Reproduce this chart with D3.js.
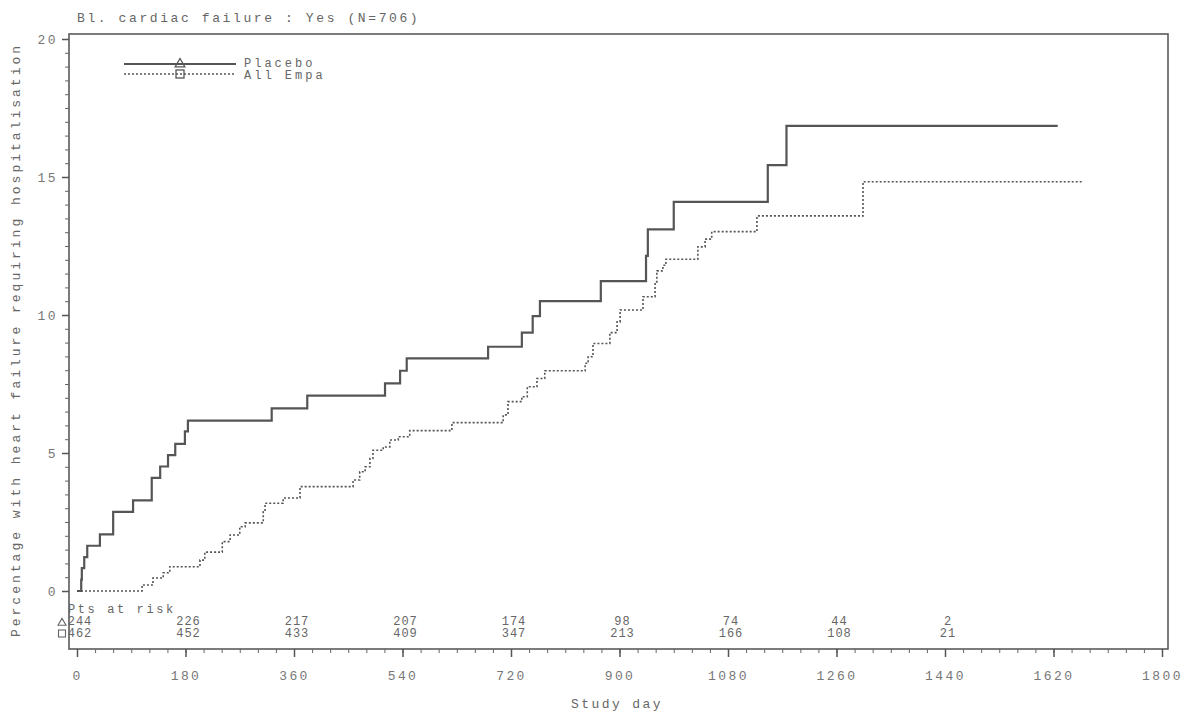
<!DOCTYPE html>
<html>
<head>
<meta charset="utf-8">
<script src="https://cdn.jsdelivr.net/npm/d3@7"></script>
<style>
  body { margin: 0; background: #fff; }
  text { font-family: "Liberation Mono", "DejaVu Sans Mono", monospace; fill: #666; }
</style>
</head>
<body>
<div id="chart"></div>
<script>
// Kaplan-Meier style step data (day, cumulative %)
const placeboDays = [0, 7, 8, 12, 17, 38, 60, 93, 124, 138, 151, 163, 179, 184, 323, 382, 511, 536, 547, 682, 738, 756, 768, 869, 944, 947, 990, 1146, 1177, 1627];
const placeboPct  = [0, 0.41, 0.83, 1.23, 1.64, 2.05, 2.87, 3.28, 4.1, 4.51, 4.92, 5.33, 5.78, 6.17, 6.62, 7.08, 7.52, 7.98, 8.43, 8.85, 9.36, 9.96, 10.5, 11.23, 12.14, 13.1, 14.1, 15.43, 16.85, 16.85];

const empaDays = [0, 108, 126, 143, 154, 204, 212, 241, 254, 270, 279, 309, 312, 342, 370, 458, 469, 478, 486, 491, 508, 519, 533, 552, 622, 707, 715, 738, 747, 763, 776, 843, 848, 856, 884, 896, 901, 939, 959, 962, 972, 977, 1030, 1042, 1053, 1128, 1304, 1669];
const empaPct  = [0, 0.22, 0.47, 0.66, 0.88, 1.12, 1.41, 1.79, 2.03, 2.33, 2.47, 2.87, 3.18, 3.37, 3.78, 4.02, 4.32, 4.5, 4.8, 5.1, 5.22, 5.47, 5.59, 5.81, 6.1, 6.38, 6.86, 7.04, 7.4, 7.7, 7.98, 8.25, 8.49, 8.97, 9.36, 9.75, 10.18, 10.66, 11.2, 11.6, 11.8, 12.02, 12.47, 12.75, 13.02, 13.59, 14.83, 14.83];

const riskDays    = [0, 180, 360, 540, 720, 900, 1080, 1260, 1440];
const riskPlacebo = [244, 226, 217, 207, 174, 98, 74, 44, 2];
const riskEmpa    = [462, 452, 433, 409, 347, 213, 166, 108, 21];

const xTicks = [0, 180, 360, 540, 720, 900, 1080, 1260, 1440, 1620, 1800];
const yTicks = [0, 5, 10, 15, 20];

const W = 1189, H = 715;
const frame = { left: 69, top: 34, right: 1168, bottom: 649 };

const svg = d3.select('#chart').append('svg')
    .attr('width', W)
    .attr('height', H);

const xScale = d3.scaleLinear().domain([0, 1800]).range([77, 1162]);
const yScale = d3.scaleLinear().domain([0, 20]).range([591, 39]);

const ls = '2.4px';

// frame
svg.append('rect')
    .attr('x', frame.left).attr('y', frame.top)
    .attr('width', frame.right - frame.left)
    .attr('height', frame.bottom - frame.top)
    .style('fill', 'none').style('stroke', '#5a5a5a').style('stroke-width', 1.6);

// y axis
const yAxis = svg.append('g')
    .attr('transform', `translate(${frame.left},0)`)
    .call(d3.axisLeft(yScale).tickValues(d3.range(0, 20.01, 0.5)).tickSize(4).tickFormat(''));
yAxis.select('.domain').remove();
yAxis.selectAll('line').style('stroke', '#666');

const yMajor = svg.append('g')
    .attr('transform', `translate(${frame.left},0)`)
    .call(d3.axisLeft(yScale).tickValues(yTicks).tickSize(7).tickPadding(4));
yMajor.select('.domain').remove();
yMajor.selectAll('line').style('stroke', '#555').style('stroke-width', 1.5);
yMajor.selectAll('text').style('font-size', '13px').style('letter-spacing', ls)
    .style('fill', '#777').style('font-family', '"Liberation Mono", monospace');

// x axis
const xAxis = svg.append('g')
    .attr('transform', `translate(0,${frame.bottom})`)
    .call(d3.axisBottom(xScale).tickValues(d3.range(0, 1801, 30)).tickSize(4).tickFormat(''));
xAxis.select('.domain').remove();
xAxis.selectAll('line').style('stroke', '#666');

const xMajor = svg.append('g')
    .attr('transform', `translate(0,${frame.bottom})`)
    .call(d3.axisBottom(xScale).tickValues(xTicks).tickSize(8).tickPadding(14).tickFormat(d3.format('d')));
xMajor.select('.domain').remove();
xMajor.selectAll('line').style('stroke', '#555').style('stroke-width', 1.5);
xMajor.selectAll('text').style('font-size', '13px').style('letter-spacing', ls)
    .style('fill', '#777').style('font-family', '"Liberation Mono", monospace');

// curves
const line = d3.line()
    .x(d => xScale(d[0]))
    .y(d => yScale(d[1]))
    .curve(d3.curveStepAfter);

svg.append('path')
    .datum(placeboDays.map((d, i) => [d, placeboPct[i]]))
    .attr('d', line)
    .style('fill', 'none').style('stroke', '#555').style('stroke-width', 2.2);

svg.append('path')
    .datum(empaDays.map((d, i) => [d, empaPct[i]]))
    .attr('d', line)
    .style('fill', 'none').style('stroke', '#555').style('stroke-width', 1.6)
    .style('stroke-dasharray', '2,2');

// title and axis labels
svg.append('text')
    .attr('x', 77).attr('y', 22)
    .style('font-size', '13px').style('letter-spacing', '2.6px')
    .text('Bl. cardiac failure : Yes (N=706)');

svg.append('text')
    .attr('transform', 'translate(20,340) rotate(-90)')
    .attr('text-anchor', 'middle')
    .style('font-size', '13px').style('letter-spacing', '3px')
    .text('Percentage with heart failure requiring hospitalisation');

svg.append('text')
    .attr('x', 617).attr('y', 708)
    .attr('text-anchor', 'middle')
    .style('font-size', '13px').style('letter-spacing', ls)
    .text('Study day');

// legend
const legend = svg.append('g');
legend.append('line')
    .attr('x1', 124).attr('x2', 236).attr('y1', 64).attr('y2', 64)
    .style('stroke', '#555').style('stroke-width', 2);
legend.append('line')
    .attr('x1', 124).attr('x2', 236).attr('y1', 74).attr('y2', 74)
    .style('stroke', '#555').style('stroke-width', 1.5).style('stroke-dasharray', '2,2');
legend.append('path')
    .attr('d', d3.symbol(d3.symbolTriangle, 40)())
    .attr('transform', 'translate(180,64)')
    .style('fill', 'none').style('stroke', '#555').style('stroke-width', 1.3);
legend.append('rect')
    .attr('x', 176).attr('y', 70).attr('width', 8).attr('height', 8)
    .style('fill', 'none').style('stroke', '#555').style('stroke-width', 1.3);
legend.append('text').attr('x', 244).attr('y', 67)
    .style('font-size', '12px').style('letter-spacing', '3px').text('Placebo');
legend.append('text').attr('x', 244).attr('y', 79)
    .style('font-size', '12px').style('letter-spacing', '3px').text('All Empa');

// patients at risk
const risk = svg.append('g');
risk.append('text').attr('x', 68).attr('y', 613)
    .style('font-size', '12px').style('letter-spacing', '2.6px').text('Pts at risk');
risk.append('path')
    .attr('d', d3.symbol(d3.symbolTriangle, 28)())
    .attr('transform', 'translate(62,623)')
    .style('fill', 'none').style('stroke', '#666').style('stroke-width', 1.1);
risk.append('rect')
    .attr('x', 58.5).attr('y', 630).attr('width', 7).attr('height', 7)
    .style('fill', 'none').style('stroke', '#666').style('stroke-width', 1.1);

risk.selectAll('.rp')
    .data(riskDays)
    .enter().append('text')
    .attr('class', 'rp')
    .attr('x', d => xScale(d) + 3)
    .attr('y', 625)
    .attr('text-anchor', 'middle')
    .style('font-size', '12px').style('letter-spacing', '1px')
    .text((d, i) => riskPlacebo[i]);

risk.selectAll('.re')
    .data(riskDays)
    .enter().append('text')
    .attr('class', 're')
    .attr('x', d => xScale(d) + 3)
    .attr('y', 637)
    .attr('text-anchor', 'middle')
    .style('font-size', '12px').style('letter-spacing', '1px')
    .text((d, i) => riskEmpa[i]);
</script>
</body>
</html>
